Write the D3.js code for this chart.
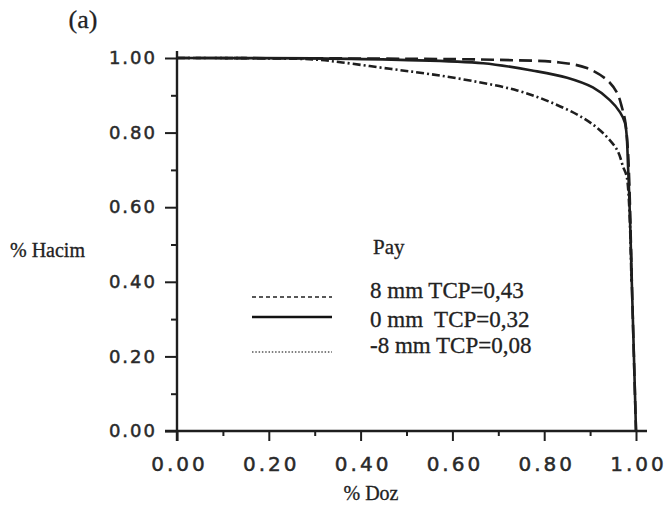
<!DOCTYPE html>
<html>
<head>
<meta charset="utf-8">
<script src="https://cdn.jsdelivr.net/npm/d3@7"></script>
<style>
  body { margin: 0; background: #fff; }
  svg { display: block; }
</style>
</head>
<body>
<svg id="chart" width="667" height="511"></svg>
<script>
// tick values
const xTicks = [0, 0.2, 0.4, 0.6, 0.8, 1.0];
const xMinor = [0.1, 0.3, 0.5, 0.7, 0.9];
const yTicks = [0, 0.2, 0.4, 0.6, 0.8, 1.0];
const yMinor = [0.1, 0.3, 0.5, 0.7, 0.9];

// DVH curves, [dose, volume]
const pay8 = [
    [0, 1.0], [0.5, 0.998], [0.7, 0.995], [0.834, 0.988], [0.893, 0.973], [0.937, 0.941],
    [0.959, 0.906], [0.969, 0.869], [0.976, 0.834], [0.982, 0.76], [0.985, 0.68],
    [0.992, 0.35], [1.0, 0]
];
const pay0 = [
    [0, 1.0], [0.3, 0.999], [0.486, 0.995], [0.667, 0.986], [0.776, 0.966], [0.85, 0.947],
    [0.906, 0.921], [0.943, 0.887], [0.965, 0.855], [0.976, 0.826], [0.983, 0.70],
    [0.992, 0.35], [1.0, 0]
];
const payMinus8 = [
    [0, 1.0], [0.2, 0.999], [0.3, 0.996], [0.36, 0.988], [0.464, 0.971], [0.55, 0.957],
    [0.645, 0.938], [0.741, 0.913], [0.813, 0.882], [0.885, 0.839], [0.928, 0.799],
    [0.959, 0.753], [0.972, 0.708], [0.98, 0.681], [0.99, 0.4]
];

const legendLabels = ["8 mm TCP=0,43", "0 mm  TCP=0,32", "-8 mm TCP=0,08"];

const svg = d3.select("#chart");

const x = d3.scaleLinear().domain([0, 1]).range([177, 636]);
const y = d3.scaleLinear().domain([0, 1]).range([431, 58]);

const ink = "#1e1e1e";
const tickFont = "'DejaVu Sans', Verdana, sans-serif";
const serif = "'Liberation Serif', 'Times New Roman', serif";

// minor ticks (no labels)
svg.append("g")
    .attr("transform", `translate(0,${y(0)})`)
    .call(d3.axisBottom(x).tickValues(xMinor).tickSize(5).tickFormat("").tickSizeOuter(0))
    .call(g => g.select(".domain").remove());
svg.append("g")
    .attr("transform", `translate(${x(0)},0)`)
    .call(d3.axisLeft(y).tickValues(yMinor).tickSize(6).tickFormat("").tickSizeOuter(0))
    .call(g => g.select(".domain").remove());

// major x axis
const xAxis = svg.append("g")
    .attr("transform", `translate(0,${y(0)})`)
    .call(d3.axisBottom(x).tickValues(xTicks).tickSize(10).tickPadding(16)
        .tickFormat(d3.format(".2f")).tickSizeOuter(0));
xAxis.select(".domain").remove();

// major y axis
const yAxis = svg.append("g")
    .attr("transform", `translate(${x(0)},0)`)
    .call(d3.axisLeft(y).tickValues(yTicks).tickSize(12).tickPadding(8)
        .tickFormat(d3.format(".2f")).tickSizeOuter(0));
yAxis.select(".domain").remove();

svg.selectAll(".tick line").attr("stroke", ink).attr("stroke-width", 2);
svg.selectAll(".tick text")
    .attr("fill", "#2a2a2a")
    .attr("stroke", "#2a2a2a")
    .attr("stroke-width", 0.5)
    .style("font-family", tickFont)
    .style("letter-spacing", "2px");
xAxis.selectAll(".tick text").style("font-size", "20px").style("letter-spacing", "3px").attr("dx", 2);
yAxis.selectAll(".tick text").style("font-size", "18px");

// axis lines
svg.append("line")
    .attr("x1", x(0) - 12).attr("x2", x(1) + 11)
    .attr("y1", y(0)).attr("y2", y(0))
    .attr("stroke", ink).attr("stroke-width", 2.4);
svg.append("line")
    .attr("x1", x(0)).attr("x2", x(0))
    .attr("y1", y(1) - 7).attr("y2", y(0) + 10)
    .attr("stroke", ink).attr("stroke-width", 2.4);

// curves
const line = d3.line()
    .x(d => x(d[0]))
    .y(d => y(d[1]))
    .curve(d3.curveCatmullRom.alpha(0.5));

svg.append("path")
    .datum(pay0)
    .attr("d", line)
    .attr("fill", "none").attr("stroke", ink).attr("stroke-width", 2.6);

svg.append("path")
    .datum(pay8)
    .attr("d", line)
    .attr("fill", "none").attr("stroke", ink).attr("stroke-width", 2.6)
    .attr("stroke-dasharray", "13,6");

svg.append("path")
    .datum(payMinus8)
    .attr("d", line)
    .attr("fill", "none").attr("stroke", ink).attr("stroke-width", 2.6)
    .attr("stroke-dasharray", "8,3,2,3");

// text labels
const serifText = sel => sel
    .style("font-family", serif)
    .attr("fill", "#222")
    .attr("stroke", "#222")
    .attr("stroke-width", 0.3);

svg.append("text")
    .attr("x", 83).attr("y", 28)
    .attr("text-anchor", "middle")
    .style("font-size", "26px")
    .call(serifText)
    .text("(a)");

svg.append("text")
    .attr("x", 10).attr("y", 257)
    .style("font-size", "20px")
    .call(serifText)
    .text("% Hacim");

svg.append("text")
    .attr("x", 371).attr("y", 500)
    .attr("text-anchor", "middle")
    .style("font-size", "20px")
    .call(serifText)
    .text("% Doz");

// legend
svg.append("text")
    .attr("x", 373).attr("y", 254)
    .style("font-size", "21px")
    .call(serifText)
    .text("Pay");

const legendStyles = [
    { dash: "4,3", width: 1.6, color: "#222" },
    { dash: null, width: 2.4, color: "#111" },
    { dash: "1.5,1.8", width: 1.3, color: "#555" }
];
const legendLineY = [297, 317, 352];
const legendTextY = [298, 327, 353];

legendLabels.forEach((label, i) => {
    svg.append("line")
        .attr("x1", 252).attr("x2", 332)
        .attr("y1", legendLineY[i]).attr("y2", legendLineY[i])
        .attr("stroke", legendStyles[i].color)
        .attr("stroke-width", legendStyles[i].width)
        .attr("stroke-dasharray", legendStyles[i].dash);
    svg.append("text")
        .attr("x", 370).attr("y", legendTextY[i])
        .style("font-size", "23px")
        .style("white-space", "pre")
        .attr("xml:space", "preserve")
        .call(serifText)
        .text(label);
});
</script>
</body>
</html>
